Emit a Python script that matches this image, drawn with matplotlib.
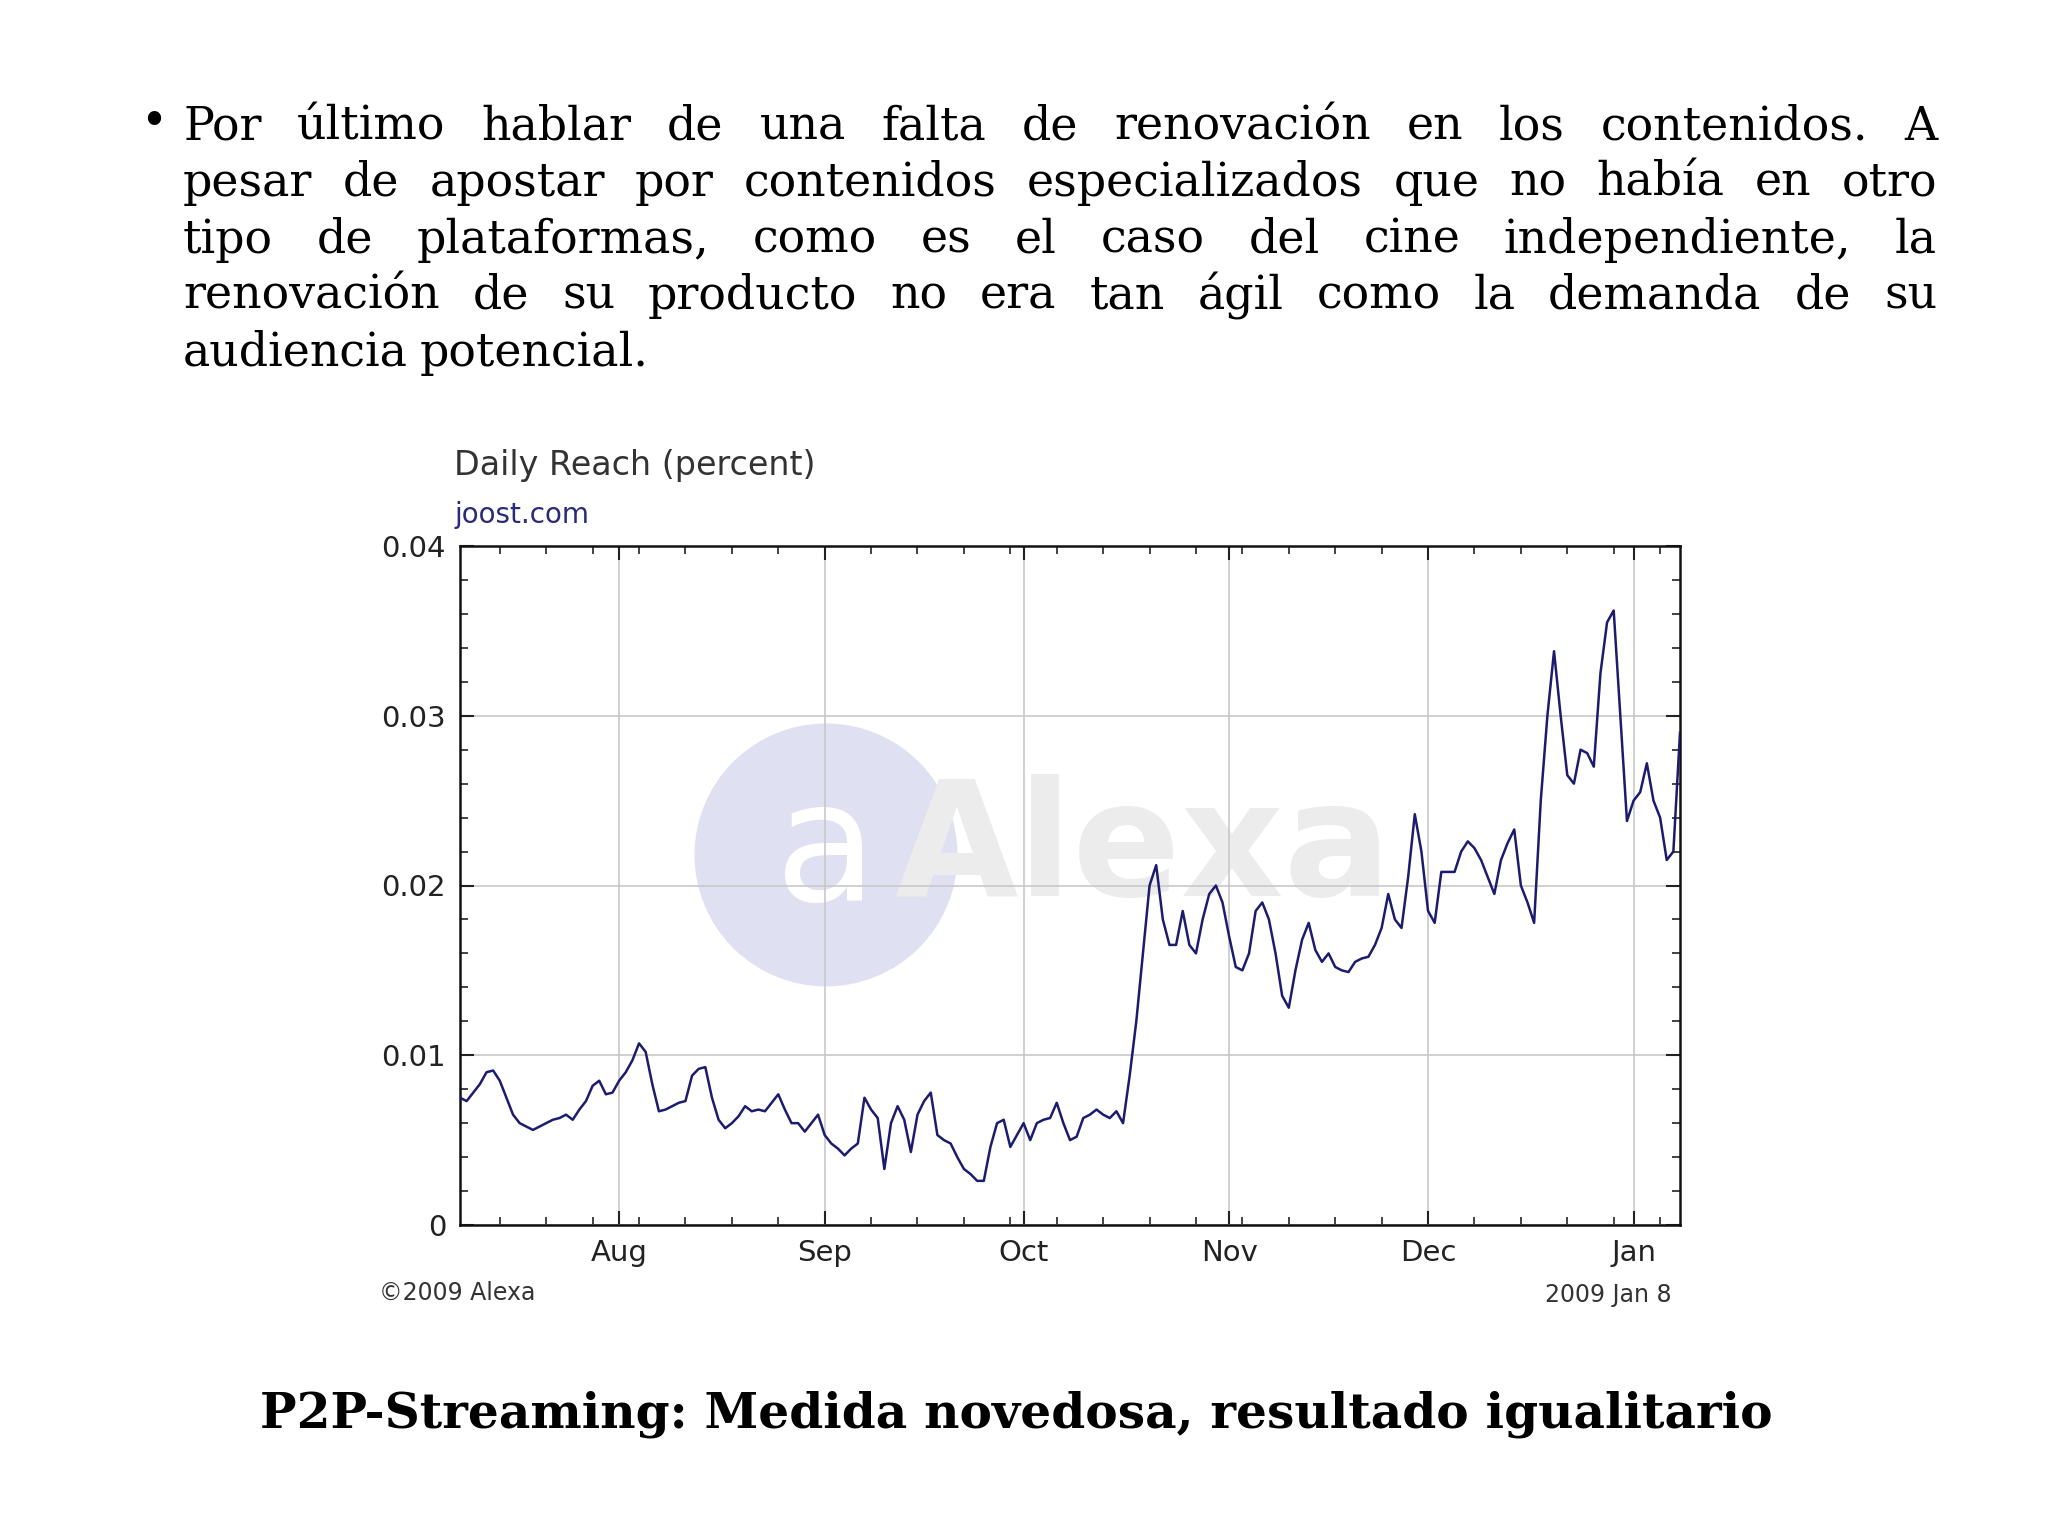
import numpy as np
import pandas as pd
import matplotlib.pyplot as plt
import matplotlib.dates as mdates

# daily reach (percent), 2008-07-08 .. 2009-01-08
reach = [0.0075, 0.0073, 0.0078, 0.0083, 0.0090, 0.0091, 0.0085, 0.0075, 0.0065, 0.0060,
         0.0058, 0.0056, 0.0058, 0.0060, 0.0062, 0.0063, 0.0065, 0.0062, 0.0068, 0.0073,
         0.0082, 0.0085, 0.0077, 0.0078, 0.0085, 0.0090, 0.0097, 0.0107, 0.0102, 0.0083,
         0.0067, 0.0068, 0.0070, 0.0072, 0.0073, 0.0088, 0.0092, 0.0093, 0.0075, 0.0062,
         0.0057, 0.0060, 0.0064, 0.0070, 0.0067, 0.0068, 0.0067, 0.0072, 0.0077, 0.0068,
         0.0060, 0.0060, 0.0055, 0.0060, 0.0065, 0.0053, 0.0048, 0.0045, 0.0041, 0.0045,
         0.0048, 0.0075, 0.0068, 0.0063, 0.0033, 0.0060, 0.0070, 0.0062, 0.0043, 0.0065,
         0.0073, 0.0078, 0.0053, 0.0050, 0.0048, 0.0040, 0.0033, 0.0030, 0.0026, 0.0026,
         0.0046, 0.0060, 0.0062, 0.0046, 0.0053, 0.0060, 0.0050, 0.0060, 0.0062, 0.0063,
         0.0072, 0.0060, 0.0050, 0.0052, 0.0063, 0.0065, 0.0068, 0.0065, 0.0063, 0.0067,
         0.0060, 0.0088, 0.0120, 0.0160, 0.0200, 0.0212, 0.0180, 0.0165, 0.0165, 0.0185,
         0.0165, 0.0160, 0.0180, 0.0195, 0.0200, 0.0190, 0.0170, 0.0152, 0.0150, 0.0160,
         0.0185, 0.0190, 0.0180, 0.0160, 0.0135, 0.0128, 0.0150, 0.0168, 0.0178, 0.0162,
         0.0155, 0.0160, 0.0152, 0.0150, 0.0149, 0.0155, 0.0157, 0.0158, 0.0165, 0.0175,
         0.0195, 0.0180, 0.0175, 0.0205, 0.0242, 0.0220, 0.0185, 0.0178, 0.0208, 0.0208,
         0.0208, 0.0220, 0.0226, 0.0222, 0.0215, 0.0205, 0.0195, 0.0215, 0.0225, 0.0233,
         0.0200, 0.0190, 0.0178, 0.0250, 0.0300, 0.0338, 0.0300, 0.0265, 0.0260, 0.0280,
         0.0278, 0.0270, 0.0325, 0.0355, 0.0362, 0.0300, 0.0238, 0.0250, 0.0255, 0.0272,
         0.0250, 0.0240, 0.0215, 0.0220, 0.0290]
dates = pd.date_range(end='2009-01-08', periods=len(reach), freq='D')

month_ticks = pd.to_datetime(['2008-08-01', '2008-09-01', '2008-10-01',
                              '2008-11-01', '2008-12-01', '2009-01-01'])
month_labels = ['Aug', 'Sep', 'Oct', 'Nov', 'Dec', 'Jan']

bullet_lines = [
    "Por último hablar de una falta de renovación en los contenidos. A",
    "pesar de apostar por contenidos especializados que no había en otro",
    "tipo de plataformas, como es el caso del cine independiente, la",
    "renovación de su producto no era tan ágil como la demanda de su",
    "audiencia potencial.",
]
caption = "P2P-Streaming: Medida novedosa, resultado igualitario"

W, H = 2048, 1535
fig = plt.figure(figsize=(20.48, 15.35), dpi=100)
fig.patch.set_facecolor('white')

# justified bullet paragraph
serif = ['DejaVu Serif']
fs = 33
x0, x1 = 183, 1937
ys = [127, 183, 240, 296, 353]
fig.text(140 / W, 1 - 122 / H, '•', fontsize=fs, family=serif, va='center')
renderer = fig.canvas.get_renderer()
for i, (line, yp) in enumerate(zip(bullet_lines, ys)):
    words = line.split(' ')
    objs = [fig.text(0, 1 - yp / H, w, fontsize=fs, family=serif, va='center') for w in words]
    widths = [o.get_window_extent(renderer).width for o in objs]
    if i < len(bullet_lines) - 1 and len(words) > 1:
        gap = (x1 - x0 - sum(widths)) / (len(words) - 1)
    else:
        gap = fs * 0.35
    x = x0
    for o, wd in zip(objs, widths):
        o.set_x(x / W)
        x += wd + gap

ax = fig.add_axes([460 / W, 1 - 1225 / H, (1680 - 460) / W, (1225 - 546) / H])
ax.plot(dates, reach, color='#1c1c6e', lw=1.8, zorder=3)
ax.set_xlim(pd.Timestamp('2008-07-08'), pd.Timestamp('2009-01-08'))
ax.set_ylim(0, 0.04)
ax.set_yticks([0, 0.01, 0.02, 0.03, 0.04])
ax.set_yticklabels(['0', '0.01', '0.02', '0.03', '0.04'])
ax.set_yticks(np.arange(0, 0.0401, 0.002), minor=True)
ax.set_xticks(month_ticks)
ax.set_xticklabels(month_labels)
ax.xaxis.set_minor_locator(mdates.WeekdayLocator(byweekday=mdates.MO))
ax.grid(True, which='major', color='#c8c8c8', lw=1.2)
ax.tick_params(which='both', direction='in', top=True, right=True, labelsize=21,
               colors='#222222', pad=10)
ax.tick_params(which='major', length=10, width=1.5)
ax.tick_params(which='minor', length=6, width=1.2)
for s in ax.spines.values():
    s.set_linewidth(1.8)
    s.set_color('#111111')

# faint watermark
ax.text(0.30, 0.545, 'a', transform=ax.transAxes, fontsize=120, color='white',
        ha='center', va='center', zorder=1,
        bbox=dict(boxstyle='circle', fc='#e0e0f3', ec='none'))
ax.text(0.56, 0.55, 'Alexa', transform=ax.transAxes, fontsize=115, color='#ececec',
        ha='center', va='center', weight='bold', zorder=1)

fig.text(454 / W, 1 - 466 / H, 'Daily Reach (percent)', fontsize=24, color='#333333', va='center')
fig.text(454 / W, 1 - 515 / H, 'joost.com', fontsize=20, color='#2a2a7a', va='center')
fig.text(379 / W, 1 - 1293 / H, '©2009 Alexa', fontsize=17, color='#333333', va='center')
fig.text(1672 / W, 1 - 1295 / H, '2009 Jan 8', fontsize=17, color='#333333', va='center', ha='right')

fig.text(1016 / W, 1 - 1414 / H, caption, fontsize=35, family=serif, weight='bold',
         ha='center', va='center')

fig.savefig('out.png', dpi=100)
